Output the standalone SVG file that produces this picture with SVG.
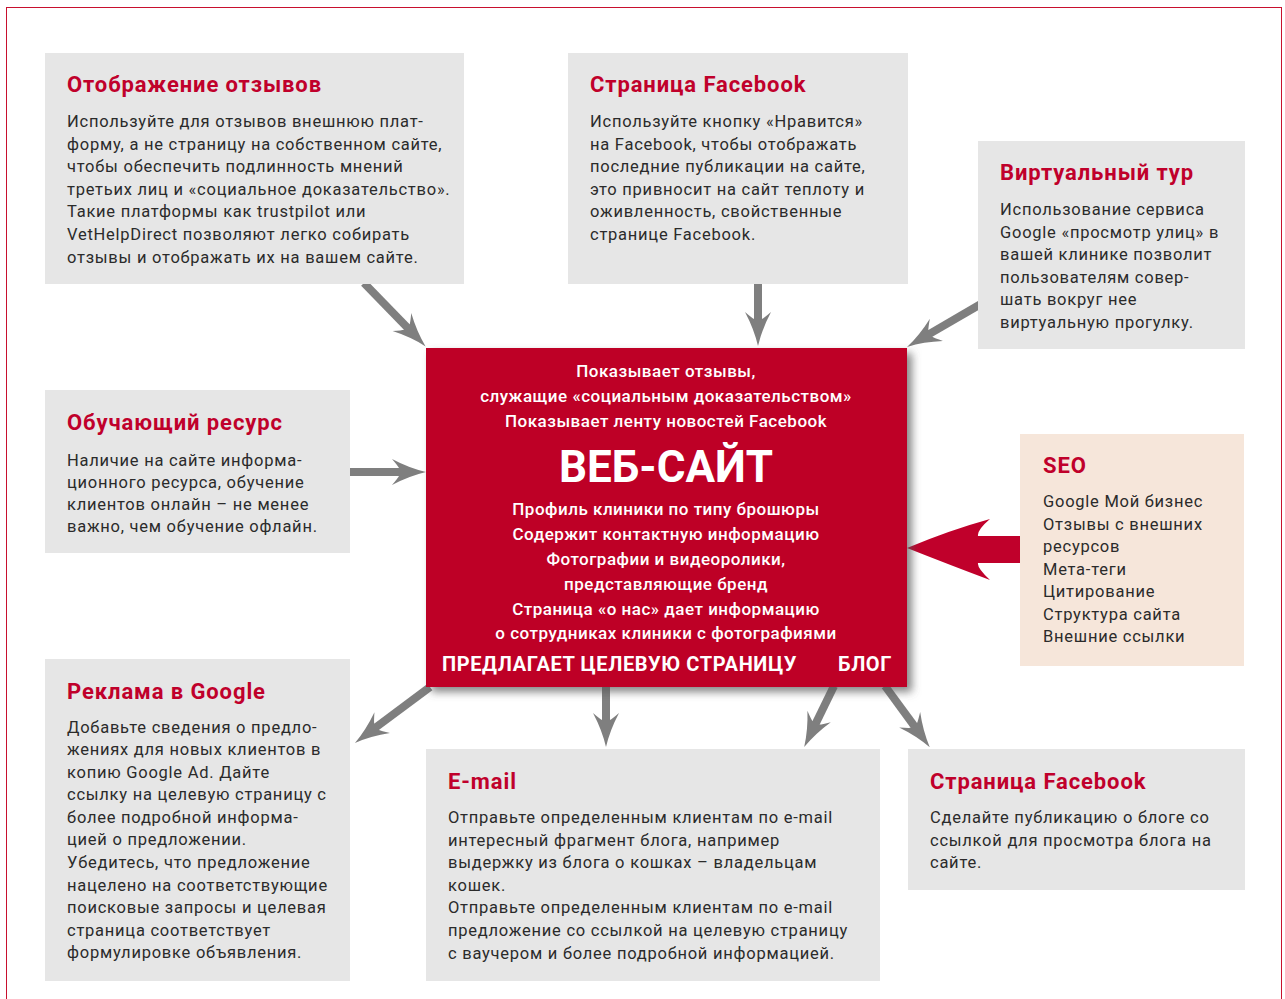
<svg xmlns="http://www.w3.org/2000/svg" width="1285" height="999" viewBox="0 0 1285 999">
  <style>
    .card { fill: #e6e6e6; }
    .seo { fill: #f6e6da; }
    .title { font-family: Roboto, "Liberation Sans", sans-serif; font-weight: 700; font-size: 22px; fill: #c0002b; letter-spacing: 0.9px; }
    .body { font-family: Roboto, "Liberation Sans", sans-serif; font-size: 16.5px; fill: #2b2b2b; letter-spacing: 0.75px; }
    .hub { font-family: Roboto, "Liberation Sans", sans-serif; font-weight: 500; font-size: 17px; fill: #ffffff; text-anchor: middle; letter-spacing: 0.5px; }
    .hubbig { font-family: Roboto, "Liberation Sans", sans-serif; font-weight: 700; font-size: 44px; fill: #ffffff; text-anchor: middle; }
    .hubcaps { font-family: Roboto, "Liberation Sans", sans-serif; font-weight: 700; font-size: 20px; fill: #ffffff; letter-spacing: 0.6px; }
    .link { stroke: #7f7f7f; stroke-width: 8; fill: none; marker-end: url(#head); }
  </style>
  <defs>
    <marker id="head" markerUnits="userSpaceOnUse" markerWidth="40" markerHeight="30" refX="10" refY="15" orient="auto" overflow="visible">
      <path d="M36,15 Q19,11 2,2 Q8,9 9,11 L9,19 Q8,21 2,28 Q19,19 36,15 Z" fill="#7f7f7f"/>
    </marker>
    <filter id="shadow" x="-10%" y="-10%" width="125%" height="130%">
      <feDropShadow dx="5" dy="5" stdDeviation="4" flood-color="#555555" flood-opacity="0.7"/>
    </filter>
  </defs>

  <!-- outer frame -->
  <rect x="6.5" y="7.5" width="1275" height="1000" fill="#ffffff" stroke="#c8102e" stroke-width="1"/>

  <!-- connectors -->
  <g id="connectors">
    <line class="link" x1="364" y1="283" x2="407.5" y2="327.8"/>
    <line class="link" x1="758" y1="283" x2="758" y2="320"/>
    <line class="link" x1="980" y1="304.5" x2="929.5" y2="333.9"/>
    <line class="link" x1="349" y1="472" x2="400" y2="472"/>
    <line class="link" x1="430" y1="687" x2="375.8" y2="727.4"/>
    <line class="link" x1="606" y1="686" x2="606" y2="721"/>
    <line class="link" x1="834" y1="686" x2="815.6" y2="723.7"/>
    <line class="link" x1="885" y1="686" x2="914.4" y2="726.2"/>
    <path id="seo-arrow" d="M907,548 Q950,530 990,519 Q977,530 978,536 L1022,536 L1022,563 L978,563 Q977,568 990,580 Q950,565 907,548 Z" fill="#c0002b"/>
  </g>

  <!-- review display -->
  <g id="reviews">
    <rect class="card" x="45" y="53" width="419" height="231"/>
    <text class="title" x="67" y="92">Отображение отзывов</text>
    <text class="body" x="67" y="127">Используйте для отзывов внешнюю плат-</text>
    <text class="body" x="67" y="150">форму, а не страницу на собственном сайте,</text>
    <text class="body" x="67" y="172">чтобы обеспечить подлинность мнений</text>
    <text class="body" x="67" y="195">третьих лиц и «социальное доказательство».</text>
    <text class="body" x="67" y="217">Такие платформы как trustpilot или</text>
    <text class="body" x="67" y="240">VetHelpDirect позволяют легко собирать</text>
    <text class="body" x="67" y="263">отзывы и отображать их на вашем сайте.</text>
  </g>

  <!-- facebook page (top) -->
  <g id="facebook-top">
    <rect class="card" x="568" y="53" width="340" height="231"/>
    <text class="title" x="590" y="92">Страница Facebook</text>
    <text class="body" x="590" y="127">Используйте кнопку «Нравится»</text>
    <text class="body" x="590" y="150">на Facebook, чтобы отображать</text>
    <text class="body" x="590" y="172">последние публикации на сайте,</text>
    <text class="body" x="590" y="195">это привносит на сайт теплоту и</text>
    <text class="body" x="590" y="217">оживленность, свойственные</text>
    <text class="body" x="590" y="240">странице Facebook.</text>
  </g>

  <!-- virtual tour -->
  <g id="virtual-tour">
    <rect class="card" x="978" y="141" width="267" height="208"/>
    <text class="title" x="1000" y="180">Виртуальный тур</text>
    <text class="body" x="1000" y="215">Использование сервиса</text>
    <text class="body" x="1000" y="238">Google «просмотр улиц» в</text>
    <text class="body" x="1000" y="260">вашей клинике позволит</text>
    <text class="body" x="1000" y="283">пользователям совер-</text>
    <text class="body" x="1000" y="305">шать вокруг нее</text>
    <text class="body" x="1000" y="328">виртуальную прогулку.</text>
  </g>

  <!-- learning resource -->
  <g id="learning">
    <rect class="card" x="45" y="390" width="305" height="163"/>
    <text class="title" x="67" y="430">Обучающий ресурс</text>
    <text class="body" x="67" y="466">Наличие на сайте информа-</text>
    <text class="body" x="67" y="488">ционного ресурса, обучение</text>
    <text class="body" x="67" y="510">клиентов онлайн – не менее</text>
    <text class="body" x="67" y="532">важно, чем обучение офлайн.</text>
  </g>

  <!-- SEO -->
  <g id="seo">
    <rect class="seo" x="1020" y="434" width="224" height="232"/>
    <text class="title" x="1043" y="473">SEO</text>
    <text class="body" x="1043" y="507">Google Мой бизнес</text>
    <text class="body" x="1043" y="530">Отзывы с внешних</text>
    <text class="body" x="1043" y="552">ресурсов</text>
    <text class="body" x="1043" y="575">Мета-теги</text>
    <text class="body" x="1043" y="597">Цитирование</text>
    <text class="body" x="1043" y="620">Структура сайта</text>
    <text class="body" x="1043" y="642">Внешние ссылки</text>
  </g>

  <!-- website hub -->
  <g id="website">
    <rect x="426" y="348" width="481" height="339" fill="#be0028" filter="url(#shadow)"/>
    <text class="hub" x="666" y="377">Показывает отзывы,</text>
    <text class="hub" x="666" y="402">служащие «социальным доказательством»</text>
    <text class="hub" x="666" y="427">Показывает ленту новостей Facebook</text>
    <text class="hubbig" x="666" y="482">ВЕБ-САЙТ</text>
    <text class="hub" x="666" y="515">Профиль клиники по типу брошюры</text>
    <text class="hub" x="666" y="540">Содержит контактную информацию</text>
    <text class="hub" x="666" y="565">Фотографии и видеоролики,</text>
    <text class="hub" x="666" y="590">представляющие бренд</text>
    <text class="hub" x="666" y="615">Страница «о нас» дает информацию</text>
    <text class="hub" x="666" y="639">о сотрудниках клиники с фотографиями</text>
    <text class="hubcaps" x="442" y="671">ПРЕДЛАГАЕТ ЦЕЛЕВУЮ СТРАНИЦУ</text>
    <text class="hubcaps" x="838" y="671">БЛОГ</text>
  </g>

  <!-- google ads -->
  <g id="google-ads">
    <rect class="card" x="45" y="659" width="305" height="322"/>
    <text class="title" x="67" y="699">Реклама в Google</text>
    <text class="body" x="67" y="733">Добавьте сведения о предло-</text>
    <text class="body" x="67" y="755">жениях для новых клиентов в</text>
    <text class="body" x="67" y="778">копию Google Ad. Дайте</text>
    <text class="body" x="67" y="800">ссылку на целевую страницу с</text>
    <text class="body" x="67" y="823">более подробной информа-</text>
    <text class="body" x="67" y="845">цией о предложении.</text>
    <text class="body" x="67" y="868">Убедитесь, что предложение</text>
    <text class="body" x="67" y="891">нацелено на соответствующие</text>
    <text class="body" x="67" y="913">поисковые запросы и целевая</text>
    <text class="body" x="67" y="936">страница соответствует</text>
    <text class="body" x="67" y="958">формулировке объявления.</text>
  </g>

  <!-- e-mail -->
  <g id="email">
    <rect class="card" x="426" y="749" width="454" height="232"/>
    <text class="title" x="448" y="789">E-mail</text>
    <text class="body" x="448" y="823">Отправьте определенным клиентам по e-mail</text>
    <text class="body" x="448" y="846">интересный фрагмент блога, например</text>
    <text class="body" x="448" y="868">выдержку из блога о кошках – владельцам</text>
    <text class="body" x="448" y="891">кошек.</text>
    <text class="body" x="448" y="913">Отправьте определенным клиентам по e-mail</text>
    <text class="body" x="448" y="936">предложение со ссылкой на целевую страницу</text>
    <text class="body" x="448" y="959">с ваучером и более подробной информацией.</text>
  </g>

  <!-- facebook page (bottom) -->
  <g id="facebook-bottom">
    <rect class="card" x="908" y="749" width="337" height="141"/>
    <text class="title" x="930" y="789">Страница Facebook</text>
    <text class="body" x="930" y="823">Сделайте публикацию о блоге со</text>
    <text class="body" x="930" y="846">ссылкой для просмотра блога на</text>
    <text class="body" x="930" y="868">сайте.</text>
  </g>
</svg>
